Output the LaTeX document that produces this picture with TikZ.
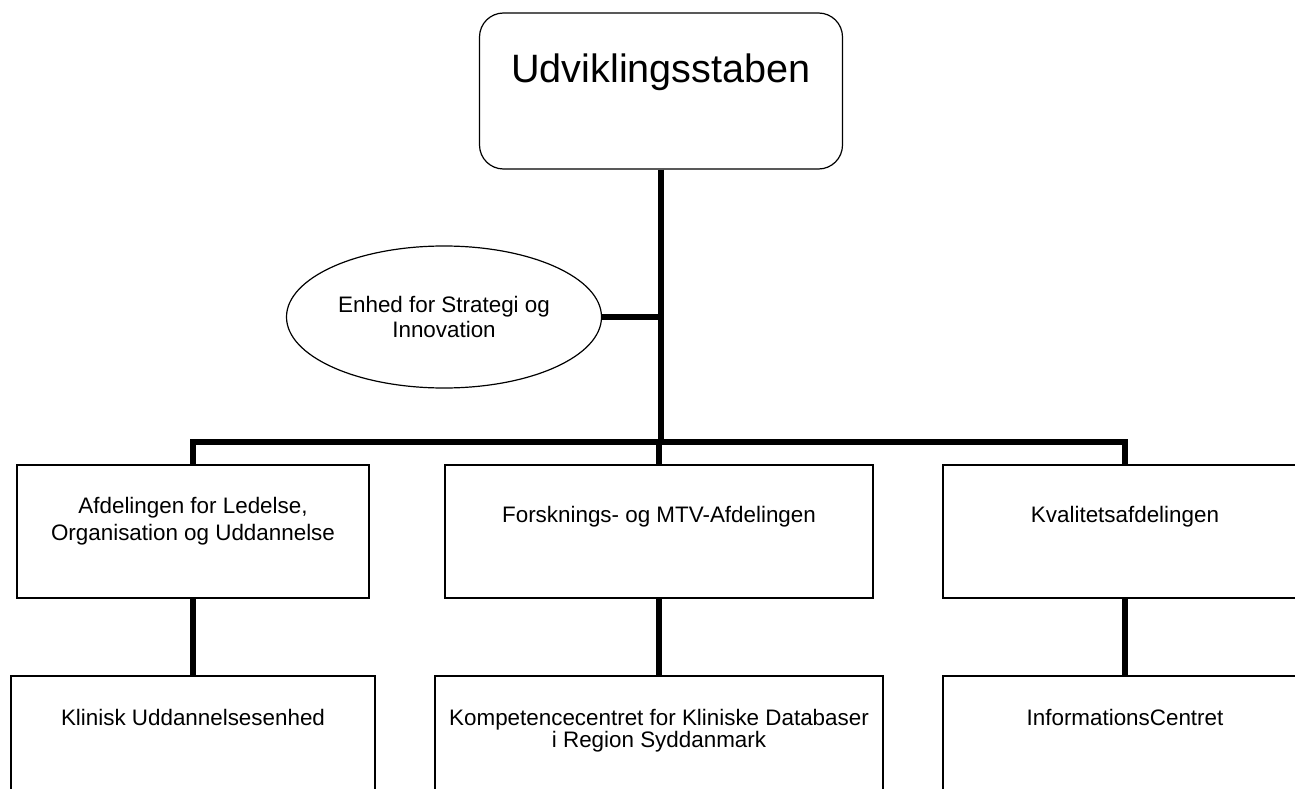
\documentclass[tikz,border=0pt]{standalone}
\usepackage{fontspec}
\setmainfont{Liberation Sans}
\usetikzlibrary{shapes.geometric}

% text block of a box: width, height, first baseline from top, line distance, text
\newcommand{\orgcell}[5]{\parbox[c][#2][t]{#1}{\centering\fontsize{22.4}{#4}\selectfont\rule{0pt}{#3}#5}}

\tikzset{
  orgbox/.style={draw, line width=1.2pt, inner sep=0pt, fill=white, rectangle},
  headbox/.style={orgbox, rounded corners=24pt},
  unitellipse/.style={draw, ellipse, line width=1.2pt, inner sep=0pt, fill=white,
    minimum width=315pt, minimum height=142pt, align=center,
    font=\fontsize{22.4}{25}\selectfont},
  conn/.style={line width=5.5pt, line join=miter, line cap=butt}
}

\begin{document}
\begin{tikzpicture}[x=1pt,y=-1pt]
\useasboundingbox (0,0) rectangle (1295,789);
\clip (0,0) rectangle (1295,789);
\fill[white] (0,0) rectangle (1295,789);

% head of the staff
\node[headbox] (top) at (661,91) {\parbox[c][156pt][t]{363pt}{\centering\fontsize{39.6}{46}\selectfont\rule{0pt}{70pt}Udviklingsstaben}};

% staff unit beside the trunk
\node[unitellipse] (ell) at (444,317) {Enhed for Strategi og\\Innovation};

% departments
\node[orgbox] (a1) at (193,531.5) {\orgcell{352pt}{133pt}{48.5pt}{26.5pt}{Afdelingen for Ledelse,\\Organisation og Uddannelse}};
\node[orgbox] (a2) at (659,531.5) {\orgcell{428pt}{133pt}{57pt}{26.5pt}{Forsknings- og MTV-Afdelingen}};
\node[orgbox] (a3) at (1125,531.5) {\orgcell{364pt}{133pt}{57.5pt}{26.5pt}{Kvalitetsafdelingen}};

% sub-units
\node[orgbox] (b1) at (193,756) {\orgcell{364pt}{160pt}{49pt}{20.5pt}{Klinisk Uddannelsesenhed}};
\node[orgbox] (b2) at (659,756) {\orgcell{448pt}{160pt}{49.5pt}{20.5pt}{Kompetencecentret for Kliniske Databaser\\i Region Syddanmark}};
\node[orgbox] (b3) at (1125,756) {\orgcell{364pt}{160pt}{49pt}{20.5pt}{InformationsCentret}};

% connectors
\coordinate (bus) at (661,442);
\draw[conn] (top.south) -- (top.south |- bus);
\draw[conn] (ell.east) -- (ell.east -| top.south);
\draw[conn] (a1.north) |- (bus) -| (a3.north);
\draw[conn] (bus -| a2.north) -- (a2.north);
\draw[conn] (a1.south) -- (b1.north);
\draw[conn] (a2.south) -- (b2.north);
\draw[conn] (a3.south) -- (b3.north);
\end{tikzpicture}
\end{document}
